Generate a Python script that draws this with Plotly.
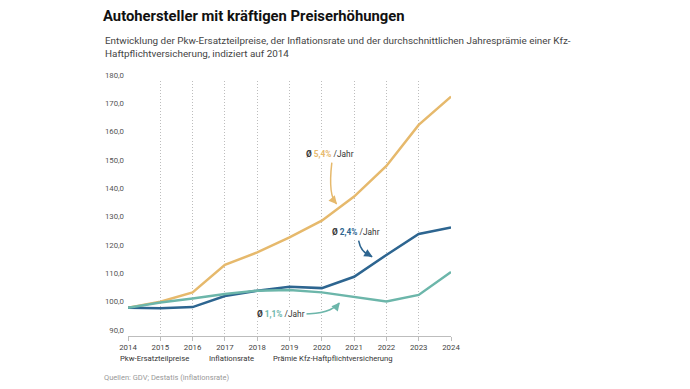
import plotly.graph_objects as go

years = [2014, 2015, 2016, 2017, 2018, 2019, 2020, 2021, 2022, 2023, 2024]
pkw = [100.0, 102.1, 105.4, 115.1, 119.5, 124.8, 130.7, 139.2, 150.0, 164.5, 174.5]
inflation = [100.0, 99.8, 100.2, 104.1, 106.0, 107.4, 106.9, 110.9, 118.6, 126.0, 128.3]
praemie = [100.0, 101.8, 103.2, 104.8, 106.0, 106.2, 105.4, 103.7, 102.2, 104.5, 112.6]
series_names = ["Pkw-Ersatzteilpreise", "Inflationsrate", "Prämie Kfz-Haftpflichtversicherung"]
y_ticks = [90, 100, 110, 120, 130, 140, 150, 160, 170, 180]
y_ticklabels = ["90,0", "100,0", "110,0", "120,0", "130,0", "140,0", "150,0", "160,0", "170,0", "180,0"]

C_ORANGE = "#E6B96C"
C_BLUE = "#2D6590"
C_TEAL = "#6CB6AA"
FONT = "Roboto"

fig = go.Figure()
for name, vals, col in [(series_names[0], pkw, C_ORANGE),
                        (series_names[1], inflation, C_BLUE),
                        (series_names[2], praemie, C_TEAL)]:
    fig.add_trace(go.Scatter(x=years, y=vals, mode="lines", name=name,
                             line=dict(color=col, width=2.5), cliponaxis=False,
                             showlegend=False))

annotations = []
shapes = [
    dict(type="path", xref="x", yref="y",
         path="M 2020.31,151.17 Q 2020.19,139.3 2020.46,136.6",
         line=dict(color=C_ORANGE, width=1.5)),
    dict(type="path", xref="x", yref="y",
         path="M 2021.14,123.64 Q 2021.21,119.2 2021.56,118.0",
         line=dict(color=C_BLUE, width=1.5)),
    dict(type="path", xref="x", yref="y",
         path="M 2019.43,97.76 Q 2020.26,97.76 2020.54,101.65",
         line=dict(color=C_TEAL, width=1.5)),
]
for (hx, hy, ax, ay, col) in [(2020.47, 136.5, -6, -7, C_ORANGE),
                              (2021.57, 117.95, -7, -4, C_BLUE),
                              (2020.56, 101.8, -5, 6, C_TEAL)]:
    annotations.append(dict(x=hx, y=hy, xref="x", yref="y", ax=ax, ay=ay, text="",
                            showarrow=True, arrowhead=2, arrowsize=1.1, arrowwidth=1.5,
                            arrowcolor=col))

def avg_text(pct, col):
    return f"<b>Ø</b> <b><span style='color:{col}'>{pct}</span></b> /Jahr"

for (x, y, pct, col) in [(2019.45, 154.2, "5,4%", C_ORANGE),
                         (2020.26, 126.8, "2,4%", C_BLUE),
                         (2017.93, 97.7, "1,1%", C_TEAL)]:
    annotations.append(dict(x=x, y=y, xref="x", yref="y", text=avg_text(pct, col),
                            showarrow=False, xanchor="left", yanchor="middle",
                            font=dict(family=FONT, size=8.3, color="#333"),
                            bgcolor="white", borderpad=1))

annotations += [
    dict(x=2024.38, y=174.6, xref="x", yref="y", text="<b>Pkw-Ersatzteilpreise: 174,5</b>",
         showarrow=False, xanchor="left", yanchor="middle",
         font=dict(family=FONT, size=7.6, color=C_ORANGE)),
    dict(x=2024.38, y=128.4, xref="x", yref="y", text="<b>Inflationsrate: 128,3</b>",
         showarrow=False, xanchor="left", yanchor="middle",
         font=dict(family=FONT, size=7.6, color=C_BLUE)),
    dict(x=2024.38, y=111.0, xref="x", yref="y",
         text="<b>Prämie Kfz-Haftpflichtversicherung:<br>112,6</b>",
         showarrow=False, xanchor="left", yanchor="middle", align="left",
         font=dict(family=FONT, size=7.6, color=C_TEAL)),
]

for (px, name) in [(118.3, series_names[0]), (206.7, series_names[1]), (270.7, series_names[2])]:
    annotations.append(dict(x=(px - 128.3) / 322.4, y=(336 - 358) / 255, xref="paper", yref="paper",
                            text=name, showarrow=False, xanchor="left", yanchor="middle",
                            font=dict(family=FONT, size=7.7, color="#333")))

annotations.append(dict(x=(103 - 128.3) / 322.4, y=(336 - 33) / 255, xref="paper", yref="paper",
                        text="Entwicklung der Pkw-Ersatzteilpreise, der Inflationsrate und der durchschnittlichen Jahresprämie einer Kfz-<br>Haftpflichtversicherung, indiziert auf 2014",
                        showarrow=False, xanchor="left", yanchor="top", align="left",
                        font=dict(family=FONT, size=9.9, color="#444")))
annotations.append(dict(x=(102.7 - 128.3) / 322.4, y=(336 - 377) / 255, xref="paper", yref="paper",
                        text="Quellen: GDV; Destatis (inflationsrate)",
                        showarrow=False, xanchor="left", yanchor="middle",
                        font=dict(family=FONT, size=7.5, color="#999")))

fig.update_layout(
    width=690, height=389,
    margin=dict(l=128.3, r=690 - 450.7, t=81, b=389 - 336),
    paper_bgcolor="white", plot_bgcolor="white",
    title=dict(text="<b>Autohersteller mit kräftigen Preiserhöhungen</b>",
               x=103 / 690, xref="container", xanchor="left",
               y=1 - 16 / 389, yref="container", yanchor="middle",
               font=dict(family=FONT, size=14.8, color="#111")),
    font=dict(family=FONT),
    shapes=shapes,
    annotations=annotations,
    xaxis=dict(range=[2014, 2024], tickmode="array", tickvals=years,
               ticktext=[str(y) for y in years],
               showgrid=True, gridcolor="#bdbdbd", griddash="1px,2px", gridwidth=1,
               showline=True, linecolor="#bdbdbd", linewidth=1,
               ticks="outside", ticklen=4, tickcolor="#bdbdbd",
               tickfont=dict(family=FONT, size=7.8, color="#444"),
               zeroline=False, fixedrange=True),
    yaxis=dict(range=[90, 180], tickmode="array", tickvals=y_ticks, ticktext=y_ticklabels,
               showgrid=False, showline=False, zeroline=False,
               ticklabelshift=-6, ticklabelstandoff=3,
               tickfont=dict(family=FONT, size=7.8, color="#555"), fixedrange=True),
)

fig.write_html("out.html", config={"displayModeBar": False},
               post_script="document.body.style.margin='0';document.body.style.padding='0';")
